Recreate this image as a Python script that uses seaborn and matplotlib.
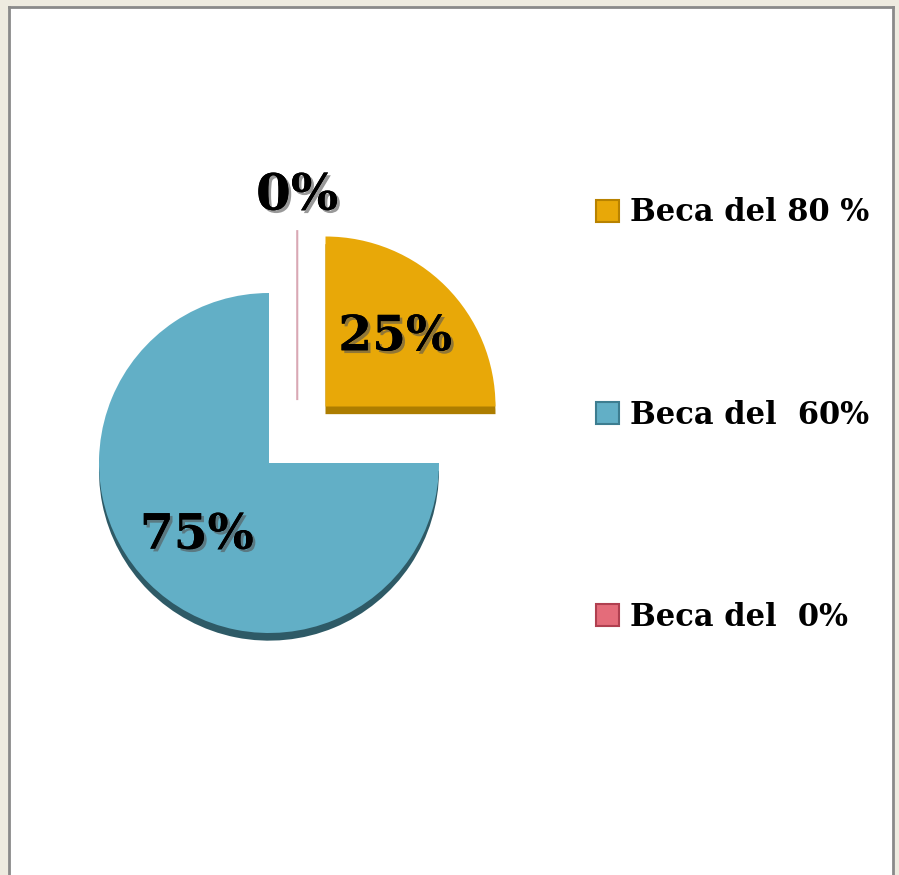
import matplotlib
matplotlib.use("Agg")
import matplotlib.pyplot as plt
import matplotlib.patheffects as pe
from matplotlib.patches import Patch
import numpy as np
import seaborn as sns

# ---- data ----
categories = ["Beca del 80 %", "Beca del  60%", "Beca del  0%"]
values = [25, 75, 0]
pct_labels = ["25%", "75%", "0%"]
colors = ["#E8A808", "#62AFC6", "#E46C7A"]
depth_colors = ["#AD7D00", "#2E5A66", "#A04050"]
edge_colors = ["#B88200", "#3D7D90", "#B04050"]

sns.set_theme(style="white")
plt.rcParams["font.family"] = ["DejaVu Serif"]
plt.rcParams["text.color"] = "black"

W, H = 899, 875
fig = plt.figure(figsize=(W / 100, H / 100), dpi=100, facecolor="#EEEBE0")

# white panel with grey frame
bg = fig.add_axes([9 / W, 0, (893 - 9) / W, (875 - 7) / H])
bg.set_facecolor("white")
bg.set_xticks([]); bg.set_yticks([])
for s in ["left", "top", "right"]:
    bg.spines[s].set_color("#8A8A8A")
    bg.spines[s].set_linewidth(2)
bg.spines["bottom"].set_visible(False)

# pie axes
ax = fig.add_axes([0, 0, 1, 1])
ax.patch.set_alpha(0)
R = 170.0
cx, cy = 269.0, 463.0
explode = [0.47, 0.0, 0.37]
common = dict(startangle=90, counterclock=False, explode=explode)

# extruded "depth" of the pie (drawn slightly lower)
dwedges, _ = ax.pie(values, colors=depth_colors, center=(0, -0.045),
                    wedgeprops={"linewidth": 0}, **common)
dwedges[2].set_visible(False)

wedges, texts = ax.pie(
    values, colors=colors,
    labels=["", "", pct_labels[2]], labeldistance=1.2,
    wedgeprops={"linewidth": 0},
    textprops={"fontsize": 36, "fontweight": "bold", "color": "black"},
    **common,
)

shadow_fx = [pe.withSimplePatchShadow(offset=(2, -2), shadow_rgbFace="#555555", alpha=0.6), pe.Normal()]

# zero slice: thin line placed in the middle of the gap between the two slices
gap_x = (wedges[0].center[0] + wedges[1].center[0]) / 2
zx, zy = wedges[2].center
wedges[2].set_center((gap_x, zy))
wedges[2].set_edgecolor("#D9A8B4")
wedges[2].set_linewidth(1.5)
tx, ty = texts[2].get_position()
texts[2].set_position((gap_x, ty))
texts[2].set_ha("center"); texts[2].set_va("center")
texts[2].set_path_effects(shadow_fx)

# percentage labels inside the slices
for w, lab, v, d in zip(wedges, pct_labels, values, [0.58, 0.6, 0]):
    if v == 0:
        continue
    ang = np.deg2rad((w.theta1 + w.theta2) / 2)
    x0, y0 = w.center
    ax.text(x0 + d * np.cos(ang), y0 + d * np.sin(ang), lab, ha="center", va="center",
            fontsize=35, fontweight="bold", color="black", path_effects=shadow_fx)

ax.set_aspect("auto")
ax.set_xlim(-cx / R, (W - cx) / R)
ax.set_ylim(-(H - cy) / R, cy / R)
ax.axis("off")

handles = [Patch(facecolor=c, edgecolor=e, linewidth=1.5) for c, e in zip(colors, edge_colors)]
leg = fig.legend(handles, categories, loc="center left", bbox_to_anchor=(596 / W, 1 - 415 / H),
                 frameon=False, prop={"family": "DejaVu Serif", "weight": "bold", "size": 22},
                 handlelength=0.75, handleheight=0.75, handletextpad=0.35, labelspacing=5.6,
                 borderpad=0, borderaxespad=0)
for t in leg.get_texts():
    t.set_color("black")

fig.savefig("out.png", dpi=100, facecolor=fig.get_facecolor())
